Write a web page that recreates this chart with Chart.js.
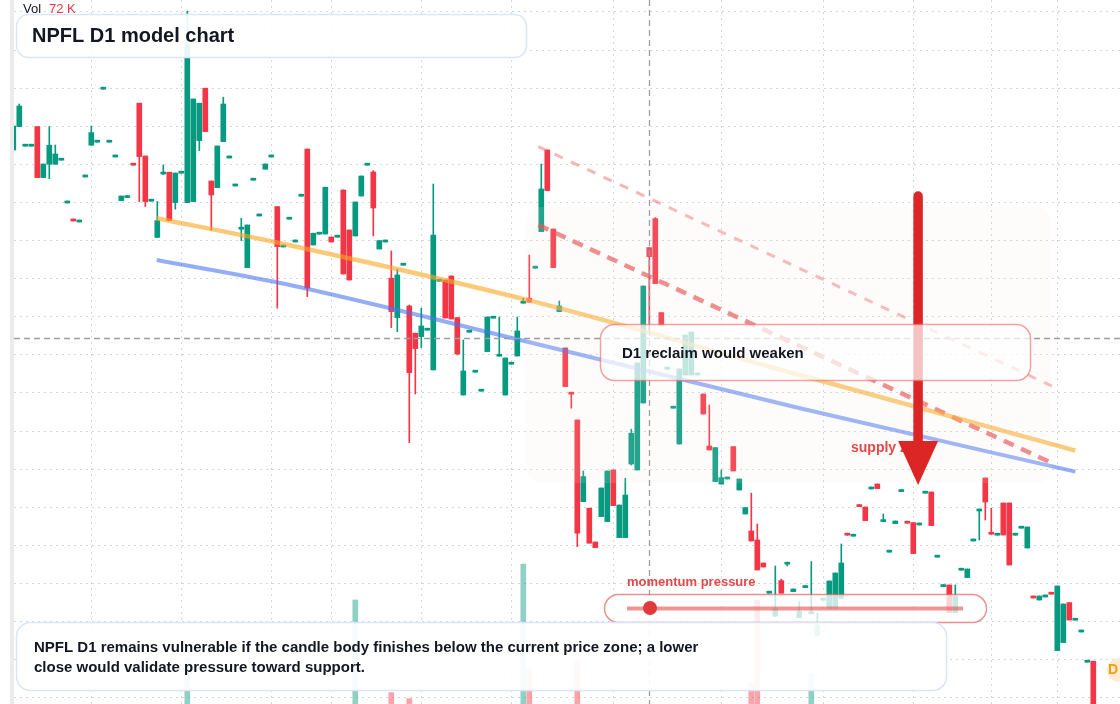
<!DOCTYPE html>
<html>
<head>
<meta charset="utf-8">
<title>NPFL D1 model chart</title>
<script src="https://cdn.jsdelivr.net/npm/chart.js@4.4.1/dist/chart.umd.min.js"></script>
<style>
  html, body { margin: 0; padding: 0; background: #fff; }
  #wrap { width: 1120px; height: 704px; }
</style>
</head>
<body>
<div id="wrap"><canvas id="chart" width="1120" height="704"></canvas></div>
<script>
// daily candles, index = trading day
const opens = [
  331, 342.7, 332.9, 332.9, 342.7, 317.2, 323.9, 323.9, 325.9, 304.5,
  296.5, 295, 317.5, 333.4, 334.9, 361.4, 334.9, 327.5, 305.7, 307.2,
  324.4, 354.4, 328, 305.4, 287.3, 319, 319.9, 304.7, 319.4, 304.7,
  305.2, 335.7, 361.9, 315.5, 312.2, 335.2, 327, 313, 291.4, 272.2,
  315.9, 298, 321.4, 327.5, 302.7, 282.5, 296.4, 285, 307.9, 331.5,
  283.5, 288.9, 289, 287.5, 287.4, 311, 291, 288, 308, 323.4,
  320, 281.5, 285, 266.9, 247.2, 273.4, 253, 239.4, 237.7, 240.9,
  221, 265.4, 266, 268, 247.2, 208.5, 239.9, 219.9, 210.4, 230.2,
  246.9, 227.9, 208.5, 223.9, 228, 254.4, 256.9, 271.9, 290.2, 331,
  291.5, 250.2, 232, 209.9, 196, 155.2, 151.9, 135, 147.7, 145.2,
  171, 137.2, 137.2, 174, 171, 204.5, 282.2, 296.7, 249.7, 221.4,
  201.9, 184, 218.5, 218.5, 218.5, 209, 183, 165.2, 164, 166.5,
  182.7, 161, 149, 140.5, 136, 124.5, 109.4, 98, 115.7, 123.9,
  110.2, 97.2, 112.2, 99.2, 88.5, 105.9, 101.9, 101.9, 106.9, 139.4,
  137.9, 153.7, 152.5, 161.5, 164, 145.2, 129.9, 144.2, 160.2, 145.4,
  144.7, 143.5, 159.4, 160, 127.4, 112.7, 113.5, 99.7, 120.9, 117.2,
  135.5, 150.5, 167, 139.9, 138.4, 154.5, 154.5, 138.4, 141.9, 132,
  108, 106, 107.5, 109.9, 80.7, 84.7, 104.7, 95.9, 90, 74.9,
  75.4
];
const highs = [
  343, 354, 333.9, 333.9, 342.7, 324, 342.7, 333.5, 326.9, 305.5,
  296.5, 296, 318.5, 343, 335.9, 362.4, 335.9, 328.5, 308, 308.2,
  324.4, 354.4, 328, 306.4, 305.2, 323.5, 319.9, 319.5, 320.4, 400.5,
  356.5, 354.4, 361.9, 315.5, 333, 357.4, 328, 314, 296.9, 293.5,
  316.9, 299, 324, 328.5, 302.7, 283.5, 297.4, 286, 308.9, 331.5,
  289.4, 289.9, 312.4, 287.5, 288.4, 311, 291, 305, 318, 324.4,
  320.7, 285.7, 286, 280.5, 271.4, 274.4, 253.5, 239.4, 251.9, 241.9,
  314, 266.4, 266, 268, 247.2, 236, 240.9, 220.9, 211.4, 247.5,
  247.9, 247.5, 227, 224.9, 247.5, 256.9, 278.5, 272.9, 324, 331,
  291.5, 255.5, 232, 209.9, 196, 170.5, 151.9, 135, 162, 170.5,
  171, 153.5, 166.9, 191.4, 224.5, 263, 282.2, 297.2, 249.7, 222.4,
  202.9, 221.5, 238.5, 240, 219.5, 209, 203.5, 182.2, 171, 167.5,
  182.7, 166.5, 152.2, 159.4, 144, 124.5, 110.4, 123, 116.4, 124.9,
  111.5, 105.2, 113.2, 125.2, 99.4, 106.9, 115.5, 119.5, 134, 139.4,
  138.9, 153.7, 152.5, 162.5, 164, 149, 130.9, 145.5, 161.2, 145.4,
  144.7, 144.5, 160.4, 160, 128.4, 113.7, 113.5, 113.5, 121.9, 121.5,
  136.5, 151.5, 167, 151.9, 139.4, 154.5, 154.5, 139.4, 142.9, 142.5,
  108, 108, 108.5, 109.9, 113, 104, 104.7, 96.9, 91, 75.9,
  75.4
];
const lows = [
  331, 342.7, 332.9, 332.9, 317.2, 317.2, 316.7, 323.9, 325.9, 304.5,
  295.5, 295, 317.5, 333.4, 334.9, 361.4, 334.9, 327.5, 305.7, 307.2,
  323.4, 305.2, 302.7, 305.4, 287.3, 318.7, 295.7, 301.4, 319.4, 304.7,
  305.2, 330.7, 340.2, 291, 312.2, 335.2, 327, 313, 285.7, 272.2,
  315.9, 298, 321.4, 327.5, 251.9, 282.5, 296.4, 285, 307.9, 257.7,
  283.5, 288.9, 289, 285, 287.4, 269, 266, 288, 308, 323.4,
  288, 281.5, 285, 242.2, 240.2, 273.4, 184.7, 209, 232.2, 240.9,
  221, 265.4, 247, 246.5, 228.5, 208.5, 239.9, 219.9, 210.4, 230.2,
  246.9, 227.9, 208.5, 223.9, 228, 254.4, 254.9, 271.9, 290.2, 310.7,
  272.2, 250.2, 212.7, 201.9, 132.7, 155.2, 134.4, 132.2, 147.7, 145.2,
  153.2, 137.2, 137.2, 173.5, 171, 204.5, 241, 264.2, 243.5, 221.4,
  201.9, 184, 218.5, 218.5, 218.5, 199, 181, 165.2, 164, 166.5,
  170.5, 161, 149, 135.5, 121, 122.5, 109.4, 97.7, 109.4, 123,
  110.2, 97.2, 112.2, 99.2, 87.7, 105.9, 101.9, 101.9, 106.9, 138.4,
  137.9, 152.7, 145.7, 161.5, 161.7, 145.2, 129.9, 144.2, 160.2, 144.4,
  129.2, 143.5, 159.4, 143.2, 127.4, 112.7, 99.7, 99.7, 120.9, 117.2,
  135.5, 136, 146, 138.9, 138.4, 138.5, 123.5, 138.4, 141.9, 132,
  107, 106, 107.5, 108.9, 80.7, 84.7, 96, 95.9, 90, 74.9,
  50
];
const closes = [
  343, 353, 333.9, 333.9, 317.2, 324, 333.4, 329, 326.9, 305.5,
  295.5, 296, 318.5, 339.7, 335.9, 362.4, 335.9, 328.5, 308, 308.2,
  323.4, 327.7, 305.2, 306.4, 295.7, 320, 295.7, 319.5, 320.4, 384.4,
  356.5, 354.4, 340.2, 308.5, 333, 354, 328, 314, 292.4, 293.5,
  316.9, 299, 324, 328.5, 282.7, 283.5, 297.4, 286, 308.9, 261.9,
  289.4, 289.9, 312.4, 285, 288.4, 269, 266, 305, 318, 324.4,
  302, 285.7, 286, 250.2, 268.5, 274.4, 219.7, 231.7, 243, 241.9,
  288.5, 266.4, 247, 246.5, 229, 220.5, 240.9, 220.9, 211.4, 247.5,
  247.9, 228.9, 227, 224.9, 240.5, 255.4, 254.9, 272.9, 311.5, 310.7,
  272.2, 253, 212.7, 208.9, 139.4, 167.7, 134.4, 132.2, 162, 170.5,
  153.2, 153.5, 158.5, 189.4, 224.5, 263, 277.7, 264.2, 243.5, 222.4,
  202.9, 221.5, 238.5, 240, 219.5, 199, 181, 182.2, 167.2, 167.5,
  170.5, 166.5, 152.2, 135.5, 121, 122.5, 110.4, 102, 109.4, 124.9,
  111.5, 100.2, 113.2, 100.2, 93.5, 106.9, 115.5, 119.5, 124.5, 138.4,
  138.9, 152.7, 145.7, 162.5, 161.7, 146.2, 130.9, 145.5, 161.2, 144.4,
  129.2, 144.5, 160.4, 143.2, 128.4, 113.7, 99.7, 108, 121.9, 121.5,
  136.5, 151.5, 155, 138.9, 139.4, 138.5, 123.5, 139.4, 142.9, 142.5,
  107, 108, 108.5, 108.9, 113, 104, 96, 96.9, 91, 75.9,
  50
];

// volume in K - only the days whose bar rises above the cropped bottom
const volDays = [29, 57, 63, 66, 85, 86, 94, 123, 124, 133];
const volK = [33.4, 62, 15.7, 12.7, 80, 27.9, 31.2, 20.4, 62, 25.4];

// month starts (vertical grid) and price grid levels
const monthStarts = [13, 28, 43, 53, 68, 83, 100, 118, 135, 150, 163, 174];
const priceGrid = [57.15, 76.2, 95.25, 114.3, 133.35, 152.4, 171.45, 190.5, 209.55, 228.6,
  247.65, 266.7, 285.75, 304.8, 323.85, 342.9, 361.95, 381, 400.05];

// hand drawn lines as [day, price]
const trendOrange = [[23.9, 296.9], [44.5, 284.4], [86, 255.8], [131.1, 218.5], [177, 180.7]];
const trendBlue = [[23.9, 276], [44.5, 264.5], [84.5, 236], [131.1, 201.9], [177, 170.2]];
const channelUpper = [[87.5, 332.7], [173.1, 213]];
const channelLower = [[87.5, 293.5], [173.6, 173.8]];

const lastPrice = 237;
const cursorDay = 106;
const zoneDays = [85.45, 173.1];
const zonePrices = [302.5, 164.5];
const arrowDay = 150.8;
const arrowPrices = [308, 185.5, 163.5]; // shaft top, head base, tip

const UP = '#089981';
const DOWN = '#f23645';
const FONT = '"Liberation Sans", Arial, sans-serif';

const dirColor = (i, up, down) => closes[i] >= opens[i] ? up : down;

const bodies = opens.map((o, i) => ({x: i, y: [o, closes[i]]}));
const wicks = lows.map((l, i) => ({x: i, y: [l, highs[i]]}));
const volumes = volDays.map((d, k) => ({x: d, y: volK[k]}));
const toXY = pts => pts.map(p => ({x: p[0], y: p[1]}));

function roundBox(ctx, x, y, w, h, r, fill, stroke, lw) {
  ctx.beginPath();
  ctx.roundRect(x, y, w, h, r);
  ctx.fillStyle = fill;
  ctx.fill();
  if (stroke) {
    ctx.strokeStyle = stroke;
    ctx.lineWidth = lw;
    ctx.stroke();
  }
}

const overlay = {
  id: 'overlay',
  beforeDraw(chart) {
    const ctx = chart.ctx;
    ctx.save();
    ctx.fillStyle = '#ffffff';
    ctx.fillRect(0, 0, chart.width, chart.height);
    // left pane separator
    ctx.fillStyle = '#ebebeb';
    ctx.fillRect(10, 0, 4, chart.height);
    ctx.restore();
  },
  afterDatasetsDraw(chart) {
    const {ctx, chartArea: a} = chart;
    const x = chart.scales.x, y = chart.scales.y;
    ctx.save();

    // supply zone shading (very faint)
    const zx1 = x.getPixelForValue(zoneDays[0]), zx2 = x.getPixelForValue(zoneDays[1]);
    const zy1 = y.getPixelForValue(zonePrices[0]), zy2 = y.getPixelForValue(zonePrices[1]);
    roundBox(ctx, zx1, zy1, zx2 - zx1, zy2 - zy1, 16, 'rgba(246,234,226,0.13)');

    // crosshair
    ctx.setLineDash([6, 4]);
    ctx.strokeStyle = '#9a9da2';
    ctx.lineWidth = 1.3;
    const cy = Math.round(y.getPixelForValue(lastPrice)) + 0.5;
    ctx.beginPath(); ctx.moveTo(a.left, cy); ctx.lineTo(a.right, cy); ctx.stroke();
    const cx = Math.round(x.getPixelForValue(cursorDay)) + 0.5;
    ctx.beginPath(); ctx.moveTo(cx, a.top); ctx.lineTo(cx, a.bottom); ctx.stroke();
    ctx.setLineDash([]);

    // zone label
    ctx.textBaseline = 'middle';
    ctx.font = 'bold 14px ' + FONT;
    ctx.fillStyle = '#e24848';
    ctx.fillText('supply zone', 851, 448);

    // big down arrow
    const ax = x.getPixelForValue(arrowDay);
    const aTop = y.getPixelForValue(arrowPrices[0]);
    const aBase = y.getPixelForValue(arrowPrices[1]);
    const aTip = y.getPixelForValue(arrowPrices[2]);
    ctx.strokeStyle = '#dc2626';
    ctx.lineWidth = 9.5;
    ctx.lineCap = 'round';
    ctx.beginPath(); ctx.moveTo(ax, aTop); ctx.lineTo(ax, aBase + 4); ctx.stroke();
    ctx.lineCap = 'butt';
    ctx.fillStyle = '#dc2626';
    ctx.beginPath();
    ctx.moveTo(ax - 20, aBase); ctx.lineTo(ax + 20, aBase); ctx.lineTo(ax, aTip);
    ctx.closePath(); ctx.fill();

    // reclaim note
    roundBox(ctx, 600.5, 324.5, 430, 56, 14, 'rgba(255,255,255,0.72)', 'rgba(236,100,100,0.6)', 1.5);
    ctx.font = 'bold 15px ' + FONT;
    ctx.fillStyle = '#131722';
    ctx.fillText('D1 reclaim would weaken', 622, 354);

    // momentum pill
    roundBox(ctx, 604.5, 594.5, 382, 28, 14, 'rgba(255,255,255,0.78)', 'rgba(230,84,84,0.65)', 1.5);
    ctx.strokeStyle = 'rgba(226,80,80,0.6)';
    ctx.lineWidth = 4;
    ctx.beginPath(); ctx.moveTo(627, 608.5); ctx.lineTo(963, 608.5); ctx.stroke();
    ctx.fillStyle = '#e03a3a';
    ctx.beginPath(); ctx.arc(650, 608, 7, 0, Math.PI * 2); ctx.fill();
    ctx.font = 'bold 13px ' + FONT;
    ctx.fillStyle = '#e24848';
    ctx.fillText('momentum pressure', 627, 582);

    // title card
    roundBox(ctx, 16.5, 14.5, 510, 43, 12, 'rgba(255,255,255,0.91)', '#d9e5f8', 1.5);
    ctx.font = 'bold 20px ' + FONT;
    ctx.fillStyle = '#131722';
    ctx.fillText('NPFL D1 model chart', 32, 36);

    // bottom commentary card
    roundBox(ctx, 16.5, 622.5, 930, 68, 14, 'rgba(255,255,255,0.92)', '#d9e5f8', 1.5);
    ctx.font = 'bold 15px ' + FONT;
    ctx.fillStyle = '#131722';
    ctx.fillText('NPFL D1 remains vulnerable if the candle body finishes below the current price zone; a lower', 34, 648);
    ctx.fillText('close would validate pressure toward support.', 34, 668);

    // volume legend
    ctx.font = '13px ' + FONT;
    ctx.fillStyle = '#131722';
    ctx.fillText('Vol', 23, 9);
    ctx.fillStyle = DOWN;
    ctx.fillText('72 K', 49, 9);

    // interval badge on the right edge
    ctx.fillStyle = '#fdebd3';
    ctx.beginPath(); ctx.arc(1119, 670, 12, 0, Math.PI * 2); ctx.fill();
    ctx.font = 'bold 14px ' + FONT;
    ctx.fillStyle = '#f59e0b';
    ctx.fillText('D', 1108, 670);

    ctx.restore();
  }
};

const gridStyle = {color: '#d3d6da', lineWidth: 1, drawTicks: false};

new Chart(document.getElementById('chart'), {
  type: 'bar',
  data: {
    datasets: [
      {
        type: 'line', data: toXY(trendOrange), borderColor: 'rgba(249,168,37,0.62)',
        borderWidth: 4.5, pointRadius: 0, cubicInterpolationMode: 'monotone', order: 0
      },
      {
        type: 'line', data: toXY(trendBlue), borderColor: 'rgba(70,115,240,0.58)',
        borderWidth: 4, pointRadius: 0, cubicInterpolationMode: 'monotone', order: 0
      },
      {
        type: 'line', data: toXY(channelUpper), borderColor: 'rgba(236,110,110,0.5)',
        borderWidth: 3, borderDash: [9, 9], pointRadius: 0, order: 0
      },
      {
        type: 'line', data: toXY(channelLower), borderColor: 'rgba(228,70,70,0.68)',
        borderWidth: 4.5, borderDash: [11, 8], pointRadius: 0, order: 0
      },
      {
        data: bodies, grouped: false, barThickness: 5, order: 1,
        backgroundColor: bodies.map((b, i) => dirColor(i, UP, DOWN))
      },
      {
        data: wicks, grouped: false, barThickness: 1, order: 2,
        backgroundColor: wicks.map((w, i) => dirColor(i, UP, DOWN))
      },
      {
        data: volumes, yAxisID: 'yv', grouped: false, barThickness: 5, order: 3,
        backgroundColor: volDays.map(d => dirColor(d, 'rgba(8,153,129,0.45)', 'rgba(242,54,69,0.45)'))
      }
    ]
  },
  options: {
    responsive: false,
    animation: false,
    events: [],
    layout: {padding: {left: 14, right: 0, top: 0, bottom: 0}},
    plugins: {legend: {display: false}, tooltip: {enabled: false}},
    scales: {
      x: {
        type: 'linear', min: 0.117, max: 184.45, offset: false,
        grid: Object.assign({offset: false}, gridStyle),
        border: {display: false, dash: [2, 4]},
        ticks: {display: false},
        afterBuildTicks: s => { s.ticks = monthStarts.map(v => ({value: v})); }
      },
      y: {
        type: 'linear', min: 54, max: 406,
        grid: gridStyle,
        border: {display: false, dash: [2, 4]},
        ticks: {display: false},
        afterBuildTicks: s => { s.ticks = priceGrid.map(v => ({value: v})); }
      },
      yv: {
        type: 'linear', display: false, min: 10, max: 362
      }
    }
  },
  plugins: [overlay]
});
</script>
</body>
</html>
